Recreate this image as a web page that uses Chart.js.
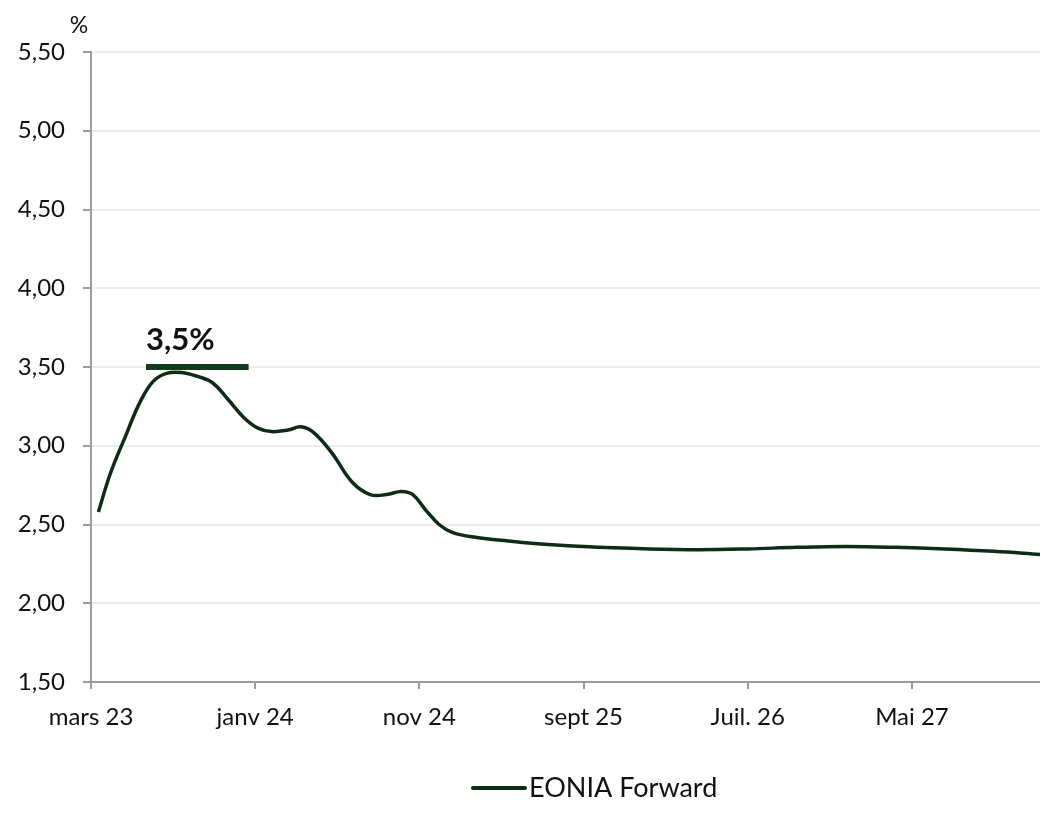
<!DOCTYPE html>
<html lang="fr">
<head>
    <meta charset="UTF-8">
    <title>EONIA Forward</title>
    <script src="https://cdn.jsdelivr.net/npm/chart.js"></script>
    <style>
        html, body { margin: 0; padding: 0; background: #ffffff; }
        #cadre { width: 1040px; height: 814px; position: relative; }
    </style>
</head>
<body>
    <div id="cadre">
        <canvas id="graphe"></canvas>
    </div>

    <script>
        // Mois écoulés depuis mars 2023 et taux forward (%)
        const mois = [0.45, 1.2, 2.1, 3.0, 3.8, 4.6, 5.5, 6.5, 7.4, 8.3, 9.3, 10.2, 11.0, 12.0, 12.8, 13.6,
                      14.7, 15.9, 17.0, 18.0, 18.9, 19.6, 20.4, 21.2, 22.0, 23.3, 25, 27, 30, 34, 37, 40,
                      43, 46, 49, 52, 55, 57.8];
        const eoniaForward = [2.58, 2.83, 3.06, 3.28, 3.41, 3.46, 3.465, 3.44, 3.40, 3.30, 3.18, 3.11, 3.09, 3.10, 3.12, 3.08,
                              2.95, 2.77, 2.69, 2.69, 2.71, 2.69, 2.59, 2.50, 2.45, 2.42, 2.40, 2.38, 2.36, 2.345, 2.34, 2.345,
                              2.355, 2.36, 2.355, 2.345, 2.33, 2.31];

        // Graduations de l'axe des dates
        const moisGraduations = [0, 10, 20, 30, 40, 50];
        const libellesDates = ['mars 23', 'janv 24', 'nov 24', 'sept 25', 'Juil. 26', 'Mai 27'];

        // Niveau du pic signalé au-dessus de la courbe
        const niveauPic = 3.5;
        const bornesPic = [3.35, 9.6];
        const libellePic = '3,5%';

        const police = 'Lato, "Open Sans", sans-serif';

        // Texte "%", étiquette du pic et légende sous le graphique
        const textesPlugin = {
            id: 'textes',
            afterDatasetsDraw(chart) {
                const ctx = chart.ctx;
                const x = chart.scales.x;
                const y = chart.scales.y;
                ctx.save();
                ctx.fillStyle = '#111111';
                ctx.font = '23px ' + police;
                ctx.textAlign = 'center';
                ctx.textBaseline = 'middle';
                ctx.fillText('%', 79, 26);

                ctx.font = 'bold 31px ' + police;
                ctx.textAlign = 'left';
                ctx.textBaseline = 'bottom';
                ctx.fillText(libellePic, x.getPixelForValue(bornesPic[0]), y.getPixelForValue(niveauPic) - 12);

                // légende
                const serie = chart.data.datasets[0];
                const yLeg = 788;
                ctx.strokeStyle = serie.borderColor;
                ctx.lineWidth = 4;
                ctx.lineCap = 'round';
                ctx.beginPath();
                ctx.moveTo(473, yLeg);
                ctx.lineTo(525, yLeg);
                ctx.stroke();
                ctx.font = '27px ' + police;
                ctx.textBaseline = 'middle';
                ctx.fillText(serie.label, 529, yLeg);
                ctx.restore();
            }
        };

        const ctx = document.getElementById('graphe').getContext('2d');
        new Chart(ctx, {
            type: 'line',
            data: {
                datasets: [
                    {
                        label: 'EONIA Forward',
                        data: mois.map((m, i) => ({ x: m, y: eoniaForward[i] })),
                        borderColor: '#0c2d13',
                        backgroundColor: '#0c2d13',
                        borderWidth: 3.5,
                        pointRadius: 0,
                        tension: 0.4,
                        fill: false
                    },
                    {
                        label: 'pic',
                        data: bornesPic.map(m => ({ x: m, y: niveauPic })),
                        borderColor: '#133a1a',
                        borderWidth: 6,
                        pointRadius: 0,
                        borderCapStyle: 'butt',
                        fill: false
                    }
                ]
            },
            options: {
                responsive: true,
                maintainAspectRatio: false,
                animation: false,
                layout: { padding: { top: 52, right: 0, left: 0, bottom: 0 } },
                scales: {
                    x: {
                        type: 'linear',
                        min: 0,
                        max: 57.8,
                        afterBuildTicks: (scale) => {
                            scale.ticks = moisGraduations.map(v => ({ value: v }));
                        },
                        afterFit: (scale) => { scale.height = 132; },
                        ticks: {
                            color: '#111111',
                            font: { family: police, size: 24 },
                            padding: 14,
                            maxRotation: 0,
                            autoSkip: false,
                            callback: (v) => libellesDates[moisGraduations.indexOf(v)]
                        },
                        grid: {
                            drawOnChartArea: false,
                            tickColor: '#9c9c9c',
                            tickLength: 7,
                            lineWidth: 2
                        },
                        border: { color: '#9c9c9c', width: 2 }
                    },
                    y: {
                        min: 1.5,
                        max: 5.5,
                        afterFit: (scale) => { scale.width = 91; },
                        ticks: {
                            stepSize: 0.5,
                            color: '#111111',
                            font: { family: police, size: 24 },
                            padding: 18,
                            callback: (v) => v.toFixed(2).replace('.', ',')
                        },
                        grid: {
                            color: '#ededed',
                            lineWidth: 2,
                            tickColor: '#9c9c9c',
                            tickLength: 8
                        },
                        border: { color: '#9c9c9c', width: 2 }
                    }
                },
                plugins: {
                    legend: { display: false },
                    tooltip: { enabled: false }
                }
            },
            plugins: [textesPlugin]
        });
    </script>
</body>
</html>
